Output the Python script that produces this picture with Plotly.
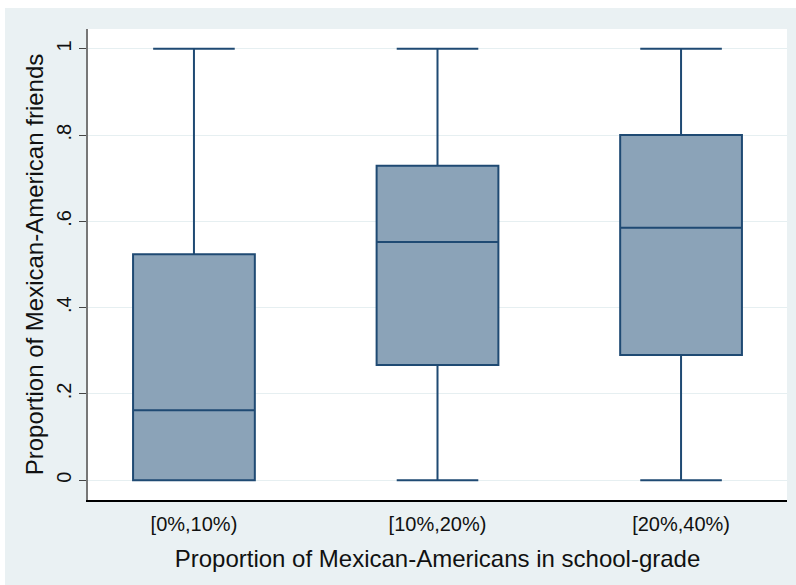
import plotly.graph_objects as go

# Box-plot summaries per school-grade share group
categories = ["[0%,10%)", "[10%,20%)", "[20%,40%)"]
lower_whisker = [0.0, 0.0, 0.0]
q1 = [0.0, 0.267, 0.290]
median = [0.162, 0.552, 0.585]
q3 = [0.524, 0.729, 0.800]
upper_whisker = [1.0, 1.0, 1.0]

y_tickvals = [0, 0.2, 0.4, 0.6, 0.8, 1.0]
y_ticktext = ["0", ".2", ".4", ".6", ".8", "1"]

LINE = "#1f4a73"
FILL = "#8ba3b8"
REGION = "#eaf1f3"
FONT = "Liberation Sans, Arial, sans-serif"

fig = go.Figure(
    go.Box(
        x=categories,
        q1=q1,
        median=median,
        q3=q3,
        lowerfence=lower_whisker,
        upperfence=upper_whisker,
        width=0.5,
        whiskerwidth=0.67,
        fillcolor=FILL,
        line=dict(color=LINE, width=2),
        boxpoints=False,
        hoverinfo="skip",
        showlegend=False,
    )
)

fig.update_layout(
    width=796,
    height=585,
    margin=dict(l=88, r=9, t=29, b=85),
    paper_bgcolor=REGION,
    plot_bgcolor="white",
    font=dict(family=FONT, color="#111111"),
    xaxis=dict(
        range=[-0.435, 2.435],
        showgrid=False,
        showline=True,
        linecolor="#000000",
        linewidth=1.5,
        ticks="outside",
        ticklen=5,
        tickcolor="rgba(0,0,0,0)",
        tickfont=dict(size=20),
        title=dict(text="Proportion of Mexican-Americans in school-grade",
                   font=dict(size=24), standoff=16),
        zeroline=False,
    ),
    yaxis=dict(
        range=[-0.046, 1.046],
        tickvals=y_tickvals,
        ticktext=y_ticktext,
        tickangle=-90,
        tickfont=dict(size=20),
        ticks="outside",
        ticklen=7,
        tickcolor="#444444",
        showline=True,
        linecolor="#777777",
        linewidth=1.5,
        showgrid=True,
        gridcolor="#e6eff1",
        gridwidth=1,
        zeroline=False,
        title=dict(text="Proportion of Mexican-American friends",
                   font=dict(size=24), standoff=3),
    ),
    shapes=[
        # white strip above the graph region
        dict(type="rect", xref="paper", yref="paper",
             x0=-0.2, x1=1.05, y0=1 + 21 / 471, y1=1.2,
             fillcolor="white", line=dict(width=0), layer="below"),
        # white strip left of the graph region
        dict(type="rect", xref="paper", yref="paper",
             x0=-0.2, x1=-83 / 699, y0=-0.3, y1=1.2,
             fillcolor="white", line=dict(width=0), layer="below"),
    ],
)

fig.write_html("out.html")
